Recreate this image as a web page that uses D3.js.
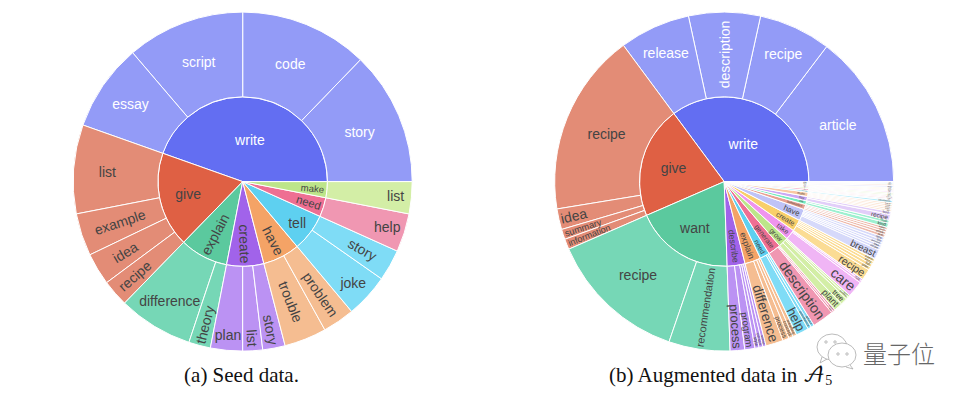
<!DOCTYPE html>
<html>
<head>
<meta charset="utf-8">
<script src="https://cdn.jsdelivr.net/npm/d3@7"></script>
<style>
  body { margin: 0; background: #fff; }
  text { font-family: "Liberation Sans", Arial, sans-serif; }
</style>
</head>
<body>
<div id="chart"></div>
<script>
// (a) seed data, values in degrees of the ring
const seedVerbs = ["write", "give", "explain", "create", "have", "tell", "need", "make"];
const seedNouns = [
  ["story", "code", "script", "essay"],
  ["list", "example", "idea", "recipe"],
  ["difference", "theory"],
  ["plan", "list", "story"],
  ["trouble", "problem"],
  ["joke", "story"],
  ["help"],
  ["list"]
];
const seedValues = [
  [46, 44, 40.5, 30],
  [30.5, 14.6, 11, 9.2],
  [25.7, 7.5],
  [11, 6.8, 7.7],
  [14.5, 11],
  [15, 10.8],
  [13.2],
  [11]
];

// (b) augmented data
const augVerbs = ["write", "give", "want", "describe", "explain", "need", "generate", "grow", "take",
  "create", "have", "summarize", "use", "buy", "make", "provide", "do", "is",
  "get", "play", "find", "teach", "cook", "plan"];
const augNouns = [
  ["article", "recipe", "description", "release"],
  ["recipe", "idea", "summary", "information"],
  ["recipe", "recommendation"],
  ["process", "program", "style", "person", "scene"],
  ["difference", "process", "concept", "meaning"],
  ["help", "assistance", "advice"],
  ["description", "list", "name"],
  ["plant", "tree", "garden", "herb"],
  ["care", "note", "picture"],
  ["recipe", "plan", "list", "story", "poem"],
  ["breast", "recipe", "idea", "question", "list", "time"],
  ["text", "article", "book", "paper"],
  ["kind", "tool"],
  ["recipe", "food"],
  ["list", "cake", "pizza", "salad", "bread"],
  ["information", "tip"],
  ["yoga", "exercise", "work"],
  ["way", "thing"],
  ["job", "idea"],
  ["game", "song"],
  ["way"],
  ["math"],
  ["meal"],
  ["trip"]
];
const augValues = [
  [52.8, 24.8, 24.6, 24.3],
  [62.8, 7.1, 3.5, 3.6],
  [47.5, 21],
  [5, 3.5, 1.4, 1.3, 1.1],
  [6, 2.2, 1.5, 1.3],
  [4.4, 1.2, 1.1],
  [7.4, 0.7, 0.7],
  [3, 2.4, 0.9, 0.7],
  [5.6, 0.8, 0.6],
  [3.8, 1.1, 1.1, 1, 1],
  [3.4, 0.9, 0.9, 0.8, 1, 1],
  [1, 0.9, 0.8, 0.8],
  [1.5, 1],
  [2, 1],
  [0.6, 0.6, 0.6, 0.6, 0.6],
  [0.8, 0.4],
  [0.5, 0.4, 0.4],
  [0.5, 0.5],
  [0.5, 0.4],
  [0.4, 0.4],
  [0.7],
  [0.5],
  [0.4],
  [0.4]
];

// labels drawn level, the rest follow the radius
const seedFlat = ["write", "give", "tell", "write/story", "write/code", "write/script", "write/essay",
  "give/list", "explain/difference", "create/plan", "tell/joke", "need/help", "make/list"];
const augFlat = ["write", "give", "want", "write/article", "write/recipe", "write/release",
  "give/recipe", "want/recipe"];

const innerColors = [
  "#636ef2", "#df6044", "#5bc99e", "#a163ea", "#f4a366", "#5ed0f0", "#ee6f93", "#bde58a", "#ef94ef", "#f9cf6a",
  "#bfc3f7", "#e8a090", "#74ebbd", "#cba8f5", "#f9c9a4", "#93e4f7", "#f6adc4", "#d6efb0", "#f7c4f7", "#fbe3a2",
  "#dcdefa", "#f1c4b8", "#b0f2d8", "#e2ccf9"
];
const outerColors = [
  "#939bf7", "#e38c76", "#76d7b6", "#bb92f3", "#f5bd91", "#7fdcf6", "#f097b2", "#d3eea6", "#f0b5f5", "#fbdc94",
  "#d6d9fa", "#eeb9ab", "#9df0d0", "#e2cef9", "#fbdcc3", "#b8edfb", "#fad0dc", "#e6f5cc", "#fadcfa", "#fdeec8",
  "#ebecfc", "#f7dad3", "#d0f7e8", "#ecdffb"
];

const width = 966;
const height = 396;
const radius = 169.5;
const fontMax = 14;
const textColor = "#444";

const svg = d3.select("#chart").append("svg")
  .attr("width", width)
  .attr("height", height)
  .style("display", "block");

const measure = document.createElement("canvas").getContext("2d");
measure.font = "100px 'Liberation Sans'";
const emWidth = s => measure.measureText(s).width / 100;

function buildTree(verbs, nouns, values) {
  return {
    name: "root",
    children: verbs.map((v, i) => ({
      name: v,
      colorIndex: i,
      children: nouns[i].map((n, j) => ({ name: n, value: values[i][j] }))
    }))
  };
}

// level text sits further out the narrower its slice is
function flatRadius(spanDeg, inner) {
  if (inner) return 42.5 + 0.31 * Math.max(0, 109 - spanDeg);
  return 127 + 0.92 * Math.max(0, 40 - spanDeg);
}

function radialLabel(name, span, r0, r1) {
  const em = emWidth(name);
  const spanDeg = span * 180 / Math.PI;
  const midR = (r0 + r1) / 2;
  const chordFactor = r0 === 0 ? 0.87 : 1.2;
  for (let s = fontMax; s > 1.5; s -= 0.25) {
    const w = s * em;
    let rc;
    if (r0 === 0) {
      rc = r1 - w / 2 - 3;
    } else {
      rc = Math.min(r1 - w / 2 - 2, midR + (spanDeg < 16 ? 350 * (1 / spanDeg - 1 / 16) : 0));
    }
    const chord = 2 * (rc - w / 2) * Math.tan(span / 2);
    if (s <= chord * chordFactor && w <= (r1 - r0) * 0.96) return { s, rc };
  }
  return { s: 1.5, rc: r1 - 4 };
}

function drawSunburst(cx, cy, tree, flatKeys) {
  const root = d3.hierarchy(tree).sum(d => d.value);
  d3.partition().size([1, 3])(root);

  // counter clockwise from 3 o'clock, as in the picture
  const angle = d3.scaleLinear().domain([0, 1]).range([Math.PI / 2, Math.PI / 2 - 2 * Math.PI]);
  const rad = d3.scaleLinear().domain([1, 3]).range([0, radius]);

  const arc = d3.arc()
    .startAngle(d => angle(d.x0))
    .endAngle(d => angle(d.x1))
    .innerRadius(d => rad(d.y0))
    .outerRadius(d => rad(d.y1));

  const g = svg.append("g").attr("transform", `translate(${cx},${cy})`);
  const nodes = root.descendants().filter(d => d.depth > 0);
  const topOf = d => d.depth === 1 ? d : d.parent;

  g.selectAll("path")
    .data(nodes)
    .join("path")
    .attr("d", arc)
    .attr("fill", d => (d.depth === 1 ? innerColors : outerColors)[topOf(d).data.colorIndex])
    .attr("stroke", "#fff")
    .attr("stroke-width", 1);

  const labels = g.selectAll("text")
    .data(nodes)
    .join("text")
    .attr("text-anchor", "middle")
    .attr("dominant-baseline", "central")
    .attr("fill", d => topOf(d).data.name === "write" ? "#fff" : textColor)
    .text(d => d.data.name);

  labels.each(function (d) {
    const span = (d.x1 - d.x0) * 2 * Math.PI;
    const spanDeg = span * 180 / Math.PI;
    const math = Math.PI / 2 - (angle(d.x0) + angle(d.x1)) / 2;
    const key = d.depth === 1 ? d.data.name : `${d.parent.data.name}/${d.data.name}`;

    let r, size, rot = 0;
    if (flatKeys.includes(key)) {
      size = fontMax;
      r = flatRadius(spanDeg, d.depth === 1);
    } else {
      const fit = radialLabel(d.data.name, span, rad(d.y0), rad(d.y1));
      size = fit.s;
      r = fit.rc;
      rot = ((-math * 180 / Math.PI) % 360 + 360) % 360;
      if (rot > 90 && rot <= 270) rot -= 180;
      else if (rot > 270) rot -= 360;
    }
    d3.select(this)
      .attr("font-size", size)
      .attr("transform", `translate(${r * Math.cos(math)},${-r * Math.sin(math)}) rotate(${rot})`);
  });
}

drawSunburst(242.7, 181.6, buildTree(seedVerbs, seedNouns, seedValues), seedFlat);
drawSunburst(724.2, 181.6, buildTree(augVerbs, augNouns, augValues), augFlat);

// captions
const serif = "'Liberation Serif', serif";
svg.append("text").attr("x", 241.5).attr("y", 382).attr("text-anchor", "middle")
  .attr("font-size", 21).attr("fill", "#111").style("font-family", serif)
  .text("(a) Seed data.");
const capB = svg.append("text").attr("x", 609).attr("y", 382)
  .attr("font-size", 21).attr("fill", "#111").style("font-family", serif)
  .text("(b) Augmented data in ");
capB.append("tspan").style("font-family", "'DejaVu Math TeX Gyre', 'DejaVu Serif', serif").text("𝒜");
capB.append("tspan").attr("dy", 3).attr("font-size", 14).text("5");

// watermark
const mark = svg.append("g").attr("fill", "none").attr("stroke", "#aaa").attr("stroke-width", 0.8);
mark.append("ellipse").attr("cx", 832).attr("cy", 347).attr("rx", 15).attr("ry", 13).attr("fill", "#fff");
mark.append("path").attr("d", "M822 357 L820 363 L827 359");
mark.append("ellipse").attr("cx", 842).attr("cy", 355).attr("rx", 14).attr("ry", 12).attr("fill", "#fff");
mark.append("path").attr("d", "M850 365 L853 369 L846 367").attr("fill", "#fff");
[[826, 342], [835, 342], [838, 354], [847, 354]].forEach(([x, y]) => {
  mark.append("circle").attr("cx", x).attr("cy", y).attr("r", 1.2);
});
svg.append("text").attr("x", 863).attr("y", 363)
  .style("font-family", "'Noto Sans CJK SC', sans-serif")
  .attr("font-size", 24).attr("font-weight", 300).attr("fill", "#666")
  .text("量子位");
</script>
</body>
</html>
